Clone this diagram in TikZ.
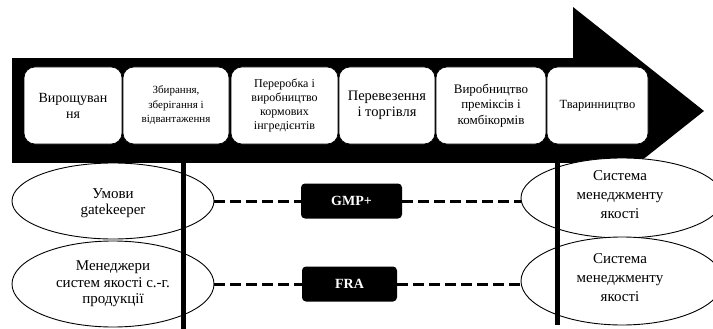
\documentclass[tikz,border=0pt]{standalone}
\usepackage{fontspec}
\setmainfont{Liberation Serif}
\usetikzlibrary{shapes.geometric}
\begin{document}
\begin{tikzpicture}[x=1pt,y=-1pt,
  stage/.style={draw=black, line width=0.6pt, fill=white, rounded corners=11pt,
    align=center, inner sep=1pt, minimum height=77pt},
  oval/.style={ellipse, draw=black, line width=0.9pt, fill=white,
    inner sep=0pt, minimum width=202pt},
  ltext/.style={align=center, inner sep=0pt, font=\fontsize{15}{16.5}\selectfont},
  rtext/.style={align=center, inner sep=0pt, font=\fontsize{15}{19}\selectfont},
  std/.style={fill=black, rounded corners=4pt, text=white, minimum height=35pt,
    font=\bfseries\fontsize{14}{16}\selectfont},
  link/.style={line width=3pt, dash pattern=on 11pt off 5pt},
  pole/.style={line width=5pt}]
\useasboundingbox (0,0) rectangle (713,329);
\fill[white] (0,0) rectangle (713,329);
% arrow head
\fill (573,7) -- (704,111) -- (573,215) -- cycle;
% right ellipses
\node[oval, minimum height=80pt] (r1) at (622,198) {};
\node[rtext] (r1t) at (620,195) {Система\\менеджменту\\якості};
\node[oval, minimum height=88pt] (r2) at (622,281) {};
\node[rtext] (r2t) at (620,278) {Система\\менеджменту\\якості};
% arrow body
\fill (12,58) rectangle (573,163);
% stages
\node[stage, minimum width=98pt, font=\fontsize{14}{16}\selectfont] (s1) at (73,105.5) {Вирощуван\\ня};
\node[stage, minimum width=106pt, font=\fontsize{11}{14.5}\selectfont] (s2) at (176,105.5) {Збирання,\\зберігання і\\відвантаження};
\node[stage, minimum width=107pt, font=\fontsize{12}{14}\selectfont] (s3) at (284.5,105.5) {Переробка і\\виробництво\\кормових\\інгредієнтів};
\node[stage, minimum width=96pt, font=\fontsize{14.5}{15.5}\selectfont] (s4) at (387,105.5) {Перевезення\\і торгівля};
\node[stage, minimum width=110pt, font=\fontsize{13}{15.5}\selectfont] (s5) at (491,105.5) {Виробництво\\премiксів і\\комбікормів};
\node[stage, minimum width=101pt, font=\fontsize{12.5}{14}\selectfont] (s6) at (597.5,105.5) {Тваринництво};
% left ellipses
\node[oval, minimum height=76pt] (l1) at (113,201) {};
\node[ltext] (l1t) at (113,203) {Умови\\gatekeeper};
\node[oval, minimum height=86pt] (l2) at (113,284) {};
\node[ltext] (l2t) at (113,284) {Менеджери\\систем якості с.-г.\\продукції};
% standard boxes
\node[std, minimum width=101pt] (gmp) at (351.5,201) {GMP+};
\node[std, minimum width=95pt] (fra) at (349.5,284) {FRA};
% dashed connectors
\draw[link] (l1.east) -- (gmp.west);
\draw[link] (gmp.east) -- (r1.west |- gmp.east);
\draw[link] (l2.east) -- (fra.west);
\draw[link] (fra.east) -- (r2.west |- fra.east);
% vertical poles
\coordinate (pa1) at (183,160);
\coordinate (pa2) at (183,329);
\coordinate (pb1) at (557,160);
\coordinate (pb2) at (557,325);
\draw[pole] (pa1) -- (pa2);
\draw[pole] (pb1) -- (pb2);
\end{tikzpicture}
\end{document}
